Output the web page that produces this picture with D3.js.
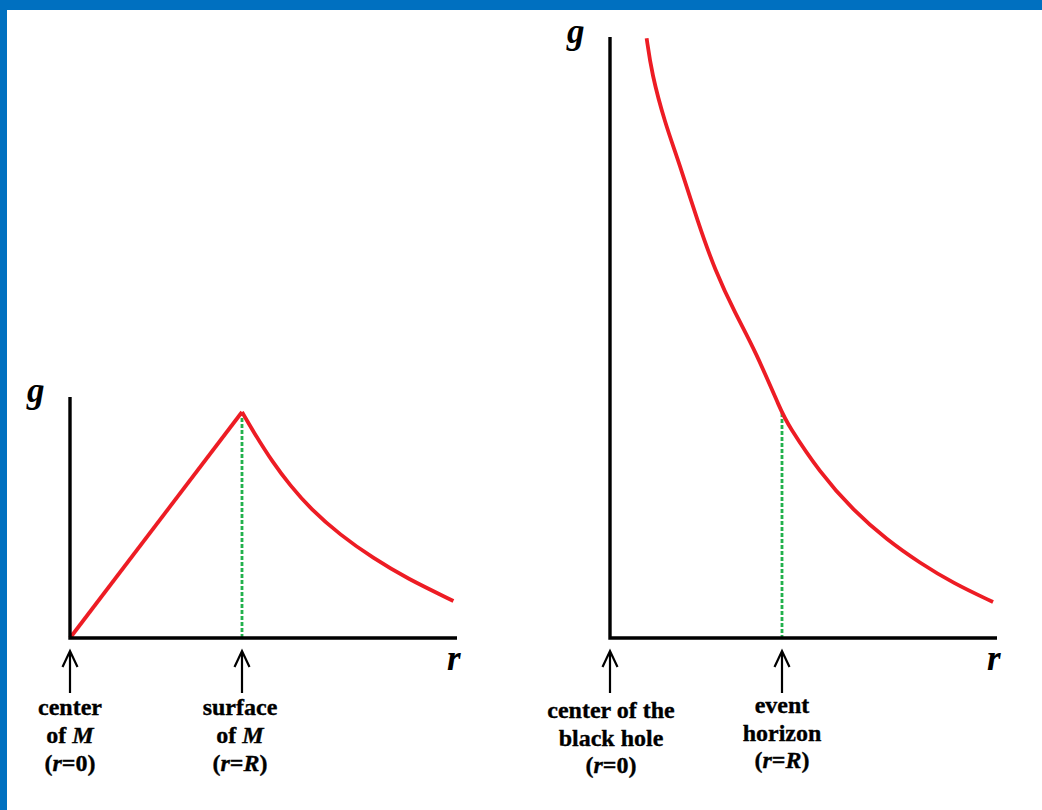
<!DOCTYPE html>
<html><head><meta charset="utf-8">
<script src="https://cdn.jsdelivr.net/npm/d3@7"></script>
<style>
html,body{margin:0;padding:0;background:#fff;}
svg{display:block;}
text{font-family:"Liberation Serif","Times New Roman",serif;font-weight:bold;fill:#000;}
</style></head>
<body>
<svg id="c" width="1042" height="810"></svg>
<script>
// ---- data (r in units of R, g in units of g(R)) ----
const leftRiseR = [0, 1];
const leftRiseG = [0, 1];
const leftFallR = [1, 1.066, 1.182, 1.279, 1.395, 1.570, 1.763, 1.958, 2.229];
const leftFallG = [1, 0.913, 0.773, 0.676, 0.574, 0.456, 0.353, 0.264, 0.164];
const rightR = [0.213, 0.242, 0.320, 0.401, 0.513, 0.610, 0.727, 0.843, 1.0, 1.029, 1.221, 1.413, 1.610, 1.802, 1.994, 2.227];
const rightG = [2.654, 2.499, 2.277, 2.106, 1.835, 1.628, 1.437, 1.274, 0.996, 0.951, 0.730, 0.566, 0.434, 0.332, 0.243, 0.159];
const markR = [0, 1];
const leftLabels = [["center", ["of ", ["M", true]], ["(", ["r", true], "=0)"]], ["surface", ["of ", ["M", true]], ["(", ["r", true], "=", ["R", true], ")"]]];
const rightLabels = [["center of the", "black hole", ["(", ["r", true], "=0)"]], ["event", "horizon", ["(", ["r", true], "=", ["R", true], ")"]]];
const leftTopG = 1.066, rightTopG = 2.659, maxR = 2.25;

const svg = d3.select("#c");
// blue frame
svg.append("rect").attr("x",0).attr("y",0).attr("width",1042).attr("height",10).attr("fill","#0070C0");
svg.append("rect").attr("x",0).attr("y",0).attr("width",7).attr("height",810).attr("fill","#0070C0");

const y = d3.scaleLinear().domain([0,1]).range([638,412]);
const RED="#ED1C24", GREEN="#22B14C";

function panel(x0, topG, curves, labels, gPos, labelBase, lineH){
  const x = d3.scaleLinear().domain([0,maxR]).range([x0, x0+387]);
  const g = svg.append("g");
  // green dotted line at r = R
  const gR = curves.peakG;
  g.append("line").attr("x1",x(1)).attr("x2",x(1)).attr("y1",y(gR)).attr("y2",y(0))
    .attr("stroke",GREEN).attr("stroke-width",2.8).attr("stroke-dasharray","4,2");
  // curves
  curves.list.forEach(c=>{
    const pts = c.r.map((r,i)=>[r,c.g[i]]);
    g.append("path").attr("d", d3.line().x(d=>x(d[0])).y(d=>y(d[1])).curve(c.curve)(pts))
      .attr("fill","none").attr("stroke",RED).attr("stroke-width",3.8).attr("stroke-linecap","butt").attr("stroke-linejoin","miter");
  });
  // axes
  g.append("path").attr("d",`M${x(0)},${y(topG)}V${y(0)}H${x(maxR)}`)
    .attr("fill","none").attr("stroke","#000").attr("stroke-width",3.4).attr("stroke-linejoin","miter");
  // axis names
  g.append("text").attr("x",x(0)+gPos[0]).attr("y",y(topG)+gPos[1]).attr("font-size",35).attr("font-style","italic").text("g");
  g.append("text").attr("x",x(maxR)-10).attr("y",670).attr("font-size",35).attr("font-style","italic").text("r");
  // arrows and labels
  markR.forEach((r,i)=>{
    const ax = x(r);
    g.append("path").attr("d",`M${ax},693V652M${ax-7.5},667L${ax},651L${ax+7.5},667`)
      .attr("fill","none").attr("stroke","#000").attr("stroke-width",2.2);
    const t = g.append("text").attr("font-size",24).attr("text-anchor","middle")
      .attr("stroke","#000").attr("stroke-width",0.35);
    labels[i].forEach((line,k)=>{
      const ts = t.append("tspan").attr("x",ax+(labelBase.dx[i]||0)).attr("y",labelBase.y[i]+k*lineH);
      const parts = Array.isArray(line)?line:[line];
      parts.forEach(p=>{
        if(Array.isArray(p)) ts.append("tspan").attr("font-style","italic").text(p[0]);
        else ts.append("tspan").text(p);
      });
    });
  });
}

panel(70, leftTopG,
  {peakG:1, list:[{r:leftRiseR,g:leftRiseG,curve:d3.curveLinear},{r:leftFallR,g:leftFallG,curve:d3.curveBasis}]},
  leftLabels, [-43,5], {y:[715,715], dx:[0,-2]}, 28);
panel(610, rightTopG,
  {peakG:0.996, list:[{r:rightR,g:rightG,curve:d3.curveBasis}]},
  rightLabels, [-43,6], {y:[718,713], dx:[1,0]}, 27.5);
</script>
</body></html>
